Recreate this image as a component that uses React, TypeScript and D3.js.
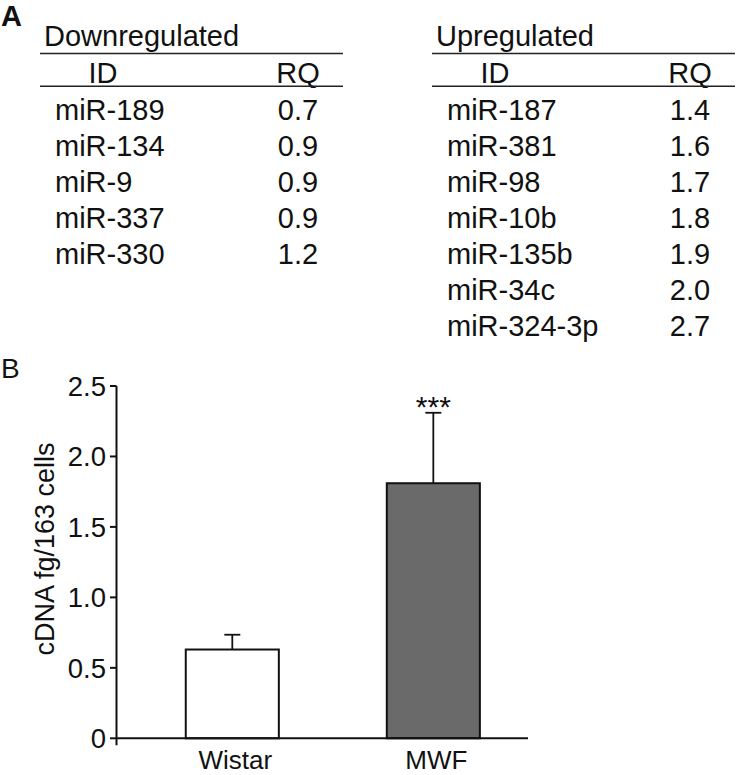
import React from "react";
import * as d3 from "d3";

const downIds = ["miR-189", "miR-134", "miR-9", "miR-337", "miR-330"];
const downRQ = ["0.7", "0.9", "0.9", "0.9", "1.2"];
const upIds = ["miR-187", "miR-381", "miR-98", "miR-10b", "miR-135b", "miR-34c", "miR-324-3p"];
const upRQ = ["1.4", "1.6", "1.7", "1.8", "1.9", "2.0", "2.7"];

const groups = ["Wistar", "MWF"];
const means = [0.63, 1.81];
const errors = [0.105, 0.50];
const fills = ["#ffffff", "#6a6a6a"];
const yTicks = [0, 0.5, 1.0, 1.5, 2.0, 2.5];
const yTickLabels = ["0", "0.5", "1.0", "1.5", "2.0", "2.5"];

const FONT = "'Liberation Sans', Arial, Helvetica, sans-serif";

function Table({ x0, title, ids, rq }: { x0: number; title: string; ids: string[]; rq: string[] }) {
  const w = 303;
  const row = d3.scaleLinear().domain([0, 1]).range([119.5, 155.5]);
  return (
    <g fontFamily={FONT} fill="#111">
      <text x={x0 + 4} y={46} fontSize={29}>{title}</text>
      <line x1={x0} x2={x0 + w} y1={53.5} y2={53.5} stroke="#222" strokeWidth={1.6} />
      <text x={x0 + 63} y={82.5} fontSize={29} textAnchor="middle">ID</text>
      <text x={x0 + 258} y={82.5} fontSize={29} textAnchor="middle">RQ</text>
      <line x1={x0} x2={x0 + w} y1={86.3} y2={86.3} stroke="#222" strokeWidth={1.6} />
      {ids.map((id, i) => (
        <g key={id}>
          <text x={x0 + 15} y={row(i)} fontSize={29}>{id}</text>
          <text x={x0 + 258} y={row(i)} fontSize={29} textAnchor="middle">{rq[i]}</text>
        </g>
      ))}
    </g>
  );
}

export default function App() {
  const y = d3.scaleLinear().domain([0, 2.5]).range([738.3, 386]);
  const x = d3
    .scaleBand<string>()
    .domain(groups)
    .range([116.5, 528])
    .paddingInner(0.537)
    .paddingOuter(0.292)
    .align(0.59);
  const bw = x.bandwidth();
  const capW = 16;

  return (
    <svg width={737} height={775} style={{ position: "absolute", left: 0, top: 0 }}>
      <rect width={737} height={775} fill="#fff" />
      <text x={1} y={26} fontFamily={FONT} fontSize={29} fontWeight="bold" fill="#111">A</text>
      <Table x0={40} title="Downregulated" ids={downIds} rq={downRQ} />
      <Table x0={432} title="Upregulated" ids={upIds} rq={upRQ} />

      <text x={1} y={378} fontFamily={FONT} fontSize={28} fill="#111">B</text>

      {/* y axis */}
      <g fontFamily={FONT} fill="#111">
        <line x1={116.5} x2={116.5} y1={y(2.5)} y2={y(0) + 7} stroke="#111" strokeWidth={2} />
        {yTicks.map((t, i) => (
          <g key={t}>
            <line x1={110} x2={116.5} y1={y(t)} y2={y(t)} stroke="#111" strokeWidth={2} />
            <text x={106} y={y(t)} dy="0.36em" fontSize={27.5} textAnchor="end">{yTickLabels[i]}</text>
          </g>
        ))}
        <text
          transform={`translate(53.5,549) rotate(-90)`}
          fontSize={27}
          textAnchor="middle"
        >
          cDNA fg/163 cells
        </text>
      </g>

      {/* bars */}
      {groups.map((g, i) => {
        const cx = (x(g) as number) + bw / 2;
        return (
          <g key={g}>
            <line x1={cx} x2={cx} y1={y(means[i])} y2={y(means[i] + errors[i])} stroke="#111" strokeWidth={1.8} />
            <line x1={cx - capW / 2} x2={cx + capW / 2} y1={y(means[i] + errors[i])} y2={y(means[i] + errors[i])} stroke="#111" strokeWidth={1.8} />
            <rect x={x(g)} y={y(means[i])} width={bw} height={y(0) - y(means[i])} fill={fills[i]} stroke="#111" strokeWidth={2} />
            <text x={cx + 3} y={769} fontFamily={FONT} fontSize={26} textAnchor="middle" fill="#111">{g}</text>
          </g>
        );
      })}
      <text
        x={(x("MWF") as number) + bw / 2}
        y={417}
        fontFamily={FONT}
        fontSize={30}
        textAnchor="middle"
        fill="#111"
      >
        ***
      </text>

      {/* x axis */}
      <line x1={116.5} x2={528} y1={y(0)} y2={y(0)} stroke="#111" strokeWidth={2} />
    </svg>
  );
}
